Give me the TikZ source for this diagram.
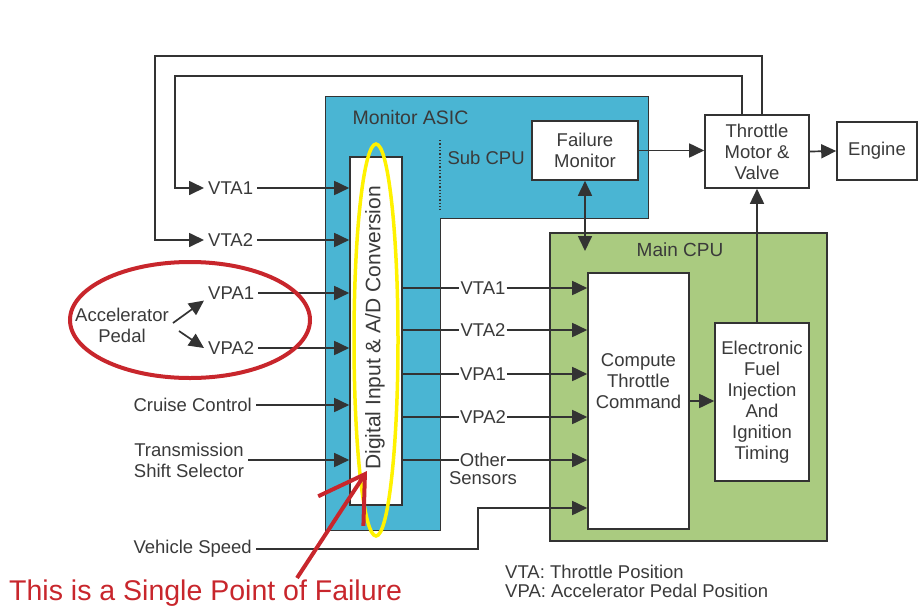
\documentclass[tikz,border=0pt]{standalone}
\usepackage{fontspec}
\setmainfont{Liberation Sans}
\usepackage{tikz}
\usetikzlibrary{arrows.meta,positioning,calc}
\definecolor{ECUBlue}  {HTML}{4AB5D3}
\definecolor{ECUGreen} {HTML}{AACB80}
\definecolor{ECULine}  {HTML}{333333}
\definecolor{ECUText}  {HTML}{3A3A3A}
\definecolor{ECURed}   {HTML}{C8262C}
\definecolor{ECUYellow}{HTML}{FFF200}

\begin{document}
\begin{tikzpicture}[x=1pt,y=-1pt,
    font=\fontsize{18.5}{21}\selectfont,text=ECUText,
    wire/.style={draw=ECULine,line width=1.7pt},
    arr/.style={wire,-{Triangle[length=15pt,width=14pt]}},
    dblarr/.style={wire,{Triangle[length=15pt,width=14pt]}-{Triangle[length=15pt,width=14pt]}},
    box/.style={draw=ECULine,line width=1.6pt,fill=white,align=center,inner sep=0pt},
    lbl/.style={inner xsep=4pt,inner ysep=1pt,align=center}]
    \useasboundingbox (0,0) rectangle (923,605);
    % Monitor ASIC and Main CPU areas
    \filldraw[fill=ECUBlue,draw=ECULine,line width=1pt]
      (325,96) -- (648,96) -- (648,218) -- (440,218) -- (440,530) -- (325,530) -- cycle;
    \filldraw[fill=ECUGreen,draw=ECULine,line width=1.2pt] (550,233) rectangle (827,541);
    \node[anchor=west,font=\fontsize{19.5}{22}\selectfont] (asic) at (349,118) {Monitor ASIC};
    \node[anchor=west] (subcpu) at (444,158) {Sub CPU};
    \node[font=\fontsize{19}{22}\selectfont] (maincpu) at (680,250) {Main CPU};
    \draw[ECULine,line width=1.3pt,dotted] (440,140) -- (440,210);
    % Blocks
    \node[box,minimum width=52pt,minimum height=348pt] (ad) at (376,331) {};
    \node[rotate=90,font=\fontsize{21}{24}\selectfont] (adtext) at (375,328) {Digital Input \& A/D Conversion};
    \node[box,minimum width=106pt,minimum height=59pt] (fm) at (585,150.5) {Failure\\Monitor};
    \node[box,minimum width=104pt,minimum height=73pt] (tmv) at (757,151.5) {Throttle\\Motor \&\\Valve};
    \node[box,minimum width=80pt,minimum height=58pt] (eng) at (877,151) {Engine};
    \node[box,minimum width=101pt,minimum height=256pt] (ctc) at (638.5,401) {};
    \node[align=center] (ctctext) at (638.5,381) {Compute\\Throttle\\Command};
    \node[box,minimum width=94pt,minimum height=158pt] (efi) at (762,402)
      {Electronic\\Fuel\\Injection\\And\\Ignition\\Timing};
    % Sensor inputs
    \node[lbl] (accel) at (122,325) {Accelerator\\Pedal};
    \node[lbl,anchor=west] (lvta1) at (204,188) {VTA1};
    \node[lbl,anchor=west] (lvta2) at (204,240) {VTA2};
    \node[lbl,anchor=west] (lvpa1) at (204,293) {VPA1};
    \node[lbl,anchor=west] (lvpa2) at (204,348) {VPA2};
    \node[lbl,anchor=east] (cruise) at (256,405) {Cruise Control};
    \node[lbl] (trans) at (189,460) {Transmission\\Shift Selector};
    \node[lbl,anchor=east] (vspeed) at (256,549) {Vehicle Speed};
    \draw[arr] ($(accel.east)+(0,-2)$) -- (lvpa1.south west);
    \draw[arr] ($(accel.east)+(6,6)$) -- (lvpa2.west);
    \draw[arr] (lvta1.east) -- (lvta1.east -| ad.west);
    \draw[arr] (lvta2.east) -- (lvta2.east -| ad.west);
    \draw[arr] (lvpa1.east) -- (lvpa1.east -| ad.west);
    \draw[arr] (lvpa2.east) -- (lvpa2.east -| ad.west);
    \draw[arr] (cruise.east) -- (cruise.east -| ad.west);
    \draw[arr] (trans.east) -- (trans.east -| ad.west);
    % Converted signals
    \node[lbl,inner xsep=1pt] (rvta1) at (483,288) {VTA1};
    \node[lbl,inner xsep=1pt] (rvta2) at (483,330) {VTA2};
    \node[lbl,inner xsep=1pt] (rvpa1) at (483,374) {VPA1};
    \node[lbl,inner xsep=1pt] (rvpa2) at (483,417) {VPA2};
    \node[lbl,inner xsep=1pt] (roth) at (483,460) {Other};
    \node[lbl] (rsens) at (483,478) {Sensors};
    \draw[wire] (ad.east |- rvta1) -- (rvta1.west);
    \draw[wire] (ad.east |- rvta2) -- (rvta2.west);
    \draw[wire] (ad.east |- rvpa1) -- (rvpa1.west);
    \draw[wire] (ad.east |- rvpa2) -- (rvpa2.west);
    \draw[wire] (ad.east |- roth) -- (roth.west);
    \draw[arr] (rvta1.east) -- (rvta1.east -| ctc.west);
    \draw[arr] (rvta2.east) -- (rvta2.east -| ctc.west);
    \draw[arr] (rvpa1.east) -- (rvpa1.east -| ctc.west);
    \draw[arr] (rvpa2.east) -- (rvpa2.east -| ctc.west);
    \draw[arr] (roth.east) -- (roth.east -| ctc.west);
    \coordinate (vsbend) at (478,508);
    \draw[arr] (vspeed.east) -| (vsbend) -- (vsbend -| ctc.west);
    % Control path
    \coordinate (fmlink) at (586,251);
    \draw[dblarr] (fm.south) -- (fm.south |- fmlink);
    \draw[arr] (fm.east) -- (fm.east -| tmv.west);
    \draw[arr] (tmv.east) -- (eng.west);
    \draw[arr] (ctc.east) -- (ctc.east -| efi.west);
    \draw[arr] (tmv.south |- efi.north) -- (tmv.south);
    % Throttle position feedback
    \coordinate (fbin) at ($(tmv.north)+(-15,0)$);
    \coordinate (fbout) at ($(tmv.north)+(5,0)$);
    \coordinate (loopin) at (175,76);
    \coordinate (loopout) at (155,56);
    \draw[arr] (fbin) |- (loopin) |- (lvta1.west);
    \draw[arr] (fbout) |- (loopout) |- (lvta2.west);
    % Highlights
    \draw[ECURed,line width=4pt] (190,320) ellipse [x radius=120,y radius=58];
    \draw[ECUYellow,line width=3.5pt] (376,340) ellipse [x radius=22,y radius=196];
    \coordinate (spftail) at (297,578);
    \coordinate (spftip) at (367,471);
    \draw[ECURed,line width=4pt,-{Straight Barb[length=44pt,width=54pt]}] (spftail) -- (spftip);
    \node[anchor=base west,inner sep=0pt,text=ECURed,font=\fontsize{28.5}{31}\selectfont] (spf) at (9,600)
      {This is a Single Point of Failure};
    % Legend
    \node[anchor=west,inner sep=0pt] (legvta) at (505,572) {VTA: Throttle Position};
    \node[anchor=west,inner sep=0pt] (legvpa) at (505,591) {VPA: Accelerator Pedal Position};
\end{tikzpicture}
\end{document}
